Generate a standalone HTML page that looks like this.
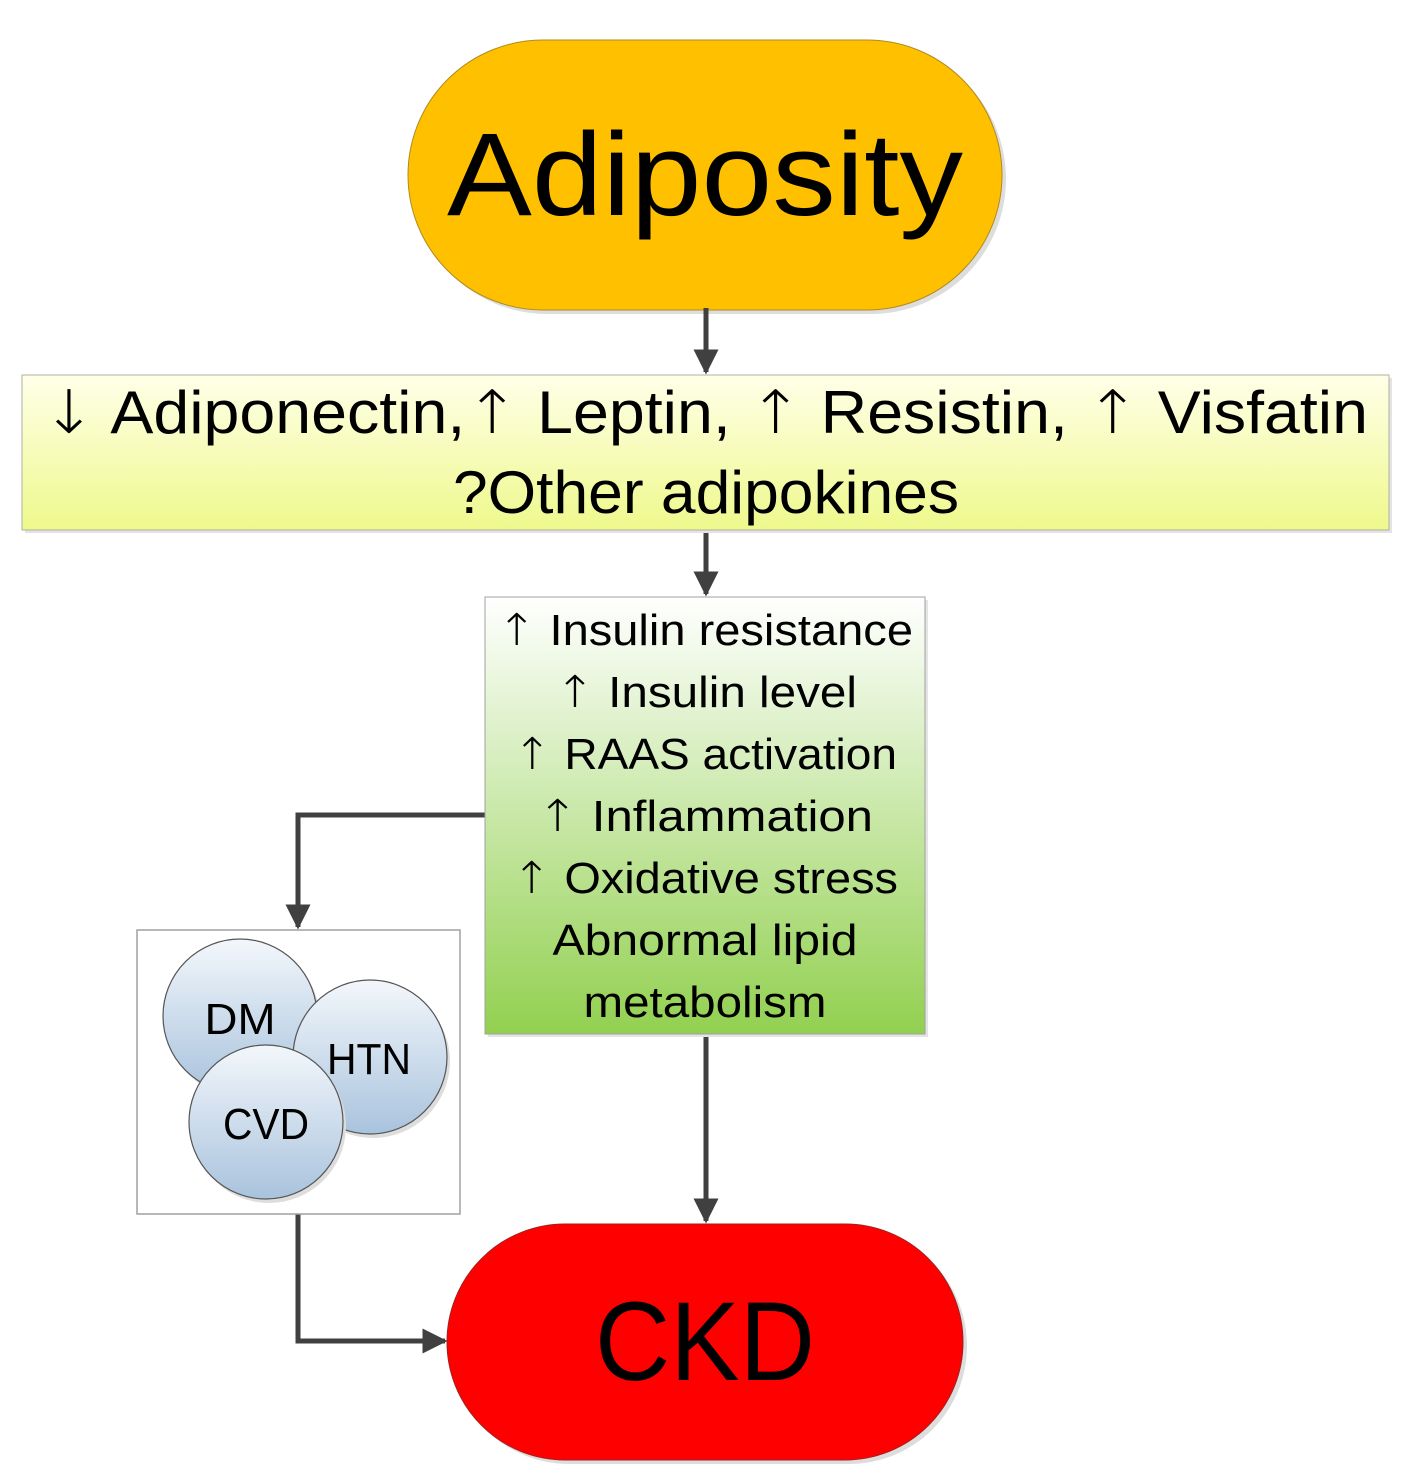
<!DOCTYPE html>
<html><head><meta charset="utf-8"><style>html,body{margin:0;padding:0;background:#fff}svg{display:block}.ar{font-family:"DejaVu Sans",sans-serif;font-weight:200}</style></head>
<body>
<svg width="1417" height="1479" viewBox="0 0 1417 1479" xmlns="http://www.w3.org/2000/svg" font-family="Liberation Sans, sans-serif">
<defs>
<linearGradient id="gy" x1="0" y1="0" x2="0" y2="1"><stop offset="0" stop-color="#FFFFE8"/><stop offset="1" stop-color="#EEF98C"/></linearGradient>
<linearGradient id="gg" x1="0" y1="0" x2="0" y2="1"><stop offset="0" stop-color="#FFFFFF"/><stop offset="1" stop-color="#92D050"/></linearGradient>
<linearGradient id="gb" x1="0" y1="0" x2="0" y2="1"><stop offset="0" stop-color="#F3F7FB"/><stop offset="1" stop-color="#A9C3DD"/></linearGradient>
<marker id="ah" viewBox="0 0 10 10" refX="9" refY="5" markerWidth="5" markerHeight="5" orient="auto" markerUnits="strokeWidth"><path d="M0,0 L10,5 L0,10 z" fill="#404040"/></marker>
</defs>
<rect x="412" y="44" width="594" height="270" rx="135" fill="#ddd"/>
<rect x="408" y="40" width="594" height="270" rx="135" fill="#FFC000" stroke="#b08a20" stroke-width="1"/>
<text x="705" y="215" font-size="118" text-anchor="middle" textLength="516" lengthAdjust="spacingAndGlyphs">Adiposity</text>
<g stroke="#404040" stroke-width="5" fill="none">
<line x1="706" y1="308" x2="706" y2="372" marker-end="url(#ah)"/>
<line x1="706" y1="530" x2="706" y2="594" marker-end="url(#ah)"/>
<line x1="706" y1="1034" x2="706" y2="1221" marker-end="url(#ah)"/>
<polyline points="487,815 298,815 298,927" marker-end="url(#ah)"/>
<polyline points="298,1212 298,1341 445,1341" marker-end="url(#ah)"/>
</g>
<rect x="25" y="378" width="1367" height="155" fill="#e4e4e4"/>
<rect x="22" y="375" width="1367" height="155" fill="url(#gy)" stroke="#b0b0a0" stroke-width="1"/>
<text x="42" y="433" font-size="60" textLength="1326" lengthAdjust="spacingAndGlyphs"><tspan class="ar">↓</tspan> Adiponectin,<tspan class="ar">↑</tspan> Leptin, <tspan class="ar">↑</tspan> Resistin, <tspan class="ar">↑</tspan> Visfatin</text>
<text x="706" y="513" font-size="60" text-anchor="middle" textLength="506" lengthAdjust="spacingAndGlyphs">?Other adipokines</text>
<rect x="488" y="600" width="440" height="437" fill="#e4e4e4"/>
<rect x="485" y="597" width="440" height="437" fill="url(#gg)" stroke="#a0a0a0" stroke-width="1"/>
<g font-size="44" text-anchor="middle">
<text x="705" y="645" textLength="416" lengthAdjust="spacingAndGlyphs"><tspan class="ar">↑</tspan> Insulin resistance</text>
<text x="706" y="707" textLength="302" lengthAdjust="spacingAndGlyphs"><tspan class="ar">↑</tspan> Insulin level</text>
<text x="705" y="769" textLength="384" lengthAdjust="spacingAndGlyphs"><tspan class="ar">↑</tspan> RAAS activation</text>
<text x="705" y="831" textLength="336" lengthAdjust="spacingAndGlyphs"><tspan class="ar">↑</tspan> Inflammation</text>
<text x="705" y="893" textLength="386" lengthAdjust="spacingAndGlyphs"><tspan class="ar">↑</tspan> Oxidative stress</text>
<text x="705" y="955" textLength="305" lengthAdjust="spacingAndGlyphs">Abnormal lipid</text>
<text x="705" y="1017" textLength="243" lengthAdjust="spacingAndGlyphs">metabolism</text>
</g>
<rect x="137" y="930" width="323" height="284" fill="#fff" stroke="#a0a0a0" stroke-width="1.5"/>
<g stroke="#555" stroke-width="1.2">
<circle cx="243" cy="1020" r="77" fill="#ddd" stroke="none"/>
<circle cx="240" cy="1016" r="77" fill="url(#gb)"/>
<circle cx="373" cy="1061" r="77" fill="#ddd" stroke="none"/>
<circle cx="370" cy="1057" r="77" fill="url(#gb)"/>
<circle cx="269" cy="1126" r="77" fill="#ddd" stroke="none"/>
<circle cx="266" cy="1122" r="77" fill="url(#gb)"/>
</g>
<g font-size="44" text-anchor="middle">
<text x="240" y="1034" textLength="71" lengthAdjust="spacingAndGlyphs">DM</text>
<text x="369" y="1074" textLength="84" lengthAdjust="spacingAndGlyphs">HTN</text>
<text x="266" y="1139" textLength="86" lengthAdjust="spacingAndGlyphs">CVD</text>
</g>
<rect x="451" y="1228" width="516" height="236" rx="118" fill="#ddd"/>
<rect x="447" y="1224" width="516" height="236" rx="118" fill="#FF0000" stroke="#a02020" stroke-width="1"/>
<text x="705" y="1380" font-size="112" text-anchor="middle" textLength="220" lengthAdjust="spacingAndGlyphs">CKD</text>
</svg>
</body></html>
